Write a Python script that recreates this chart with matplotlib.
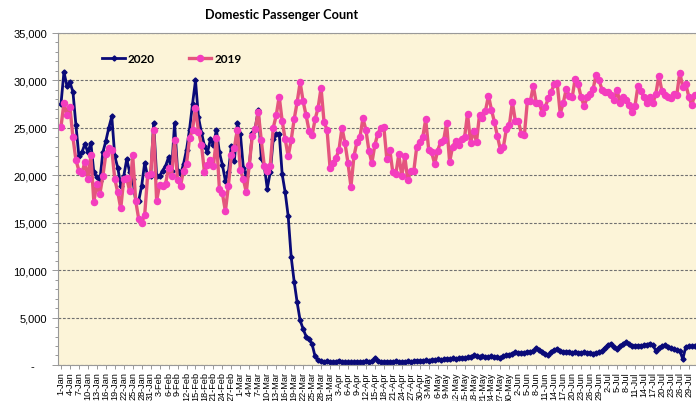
import pandas as pd
import matplotlib
matplotlib.use("Agg")
import matplotlib.pyplot as plt
import matplotlib.ticker as mticker

# daily domestic passengers, 1-Jan .. 31-Jul
pax_2020 = [27500, 30900, 29400, 29800, 28800, 25300, 22000, 22400, 23300, 22400,
            23400, 20300, 19800, 19400, 22400, 23600, 25000, 26200, 22000, 20800,
            18900, 19900, 21700, 20300, 19600, 17300, 17300, 18900, 21300, 19900,
            19900, 25500, 19900, 19900, 20500, 21000, 21900, 20500, 25500, 20500,
            20100, 21200, 22700, 24800, 27500, 30000, 26100, 24500, 23100, 22400,
            23800, 23200, 24800, 22400, 21100, 19400, 20300, 23100, 21500, 25500,
            24400, 20800, 19900, 21000, 24500, 25000, 26900, 21800, 21000, 18600,
            20300, 23800, 24300, 24400, 20100, 18200, 15700, 11400, 8800, 6600,
            4700, 3800, 3000, 2700, 2200, 900, 500, 400, 350, 400,
            350, 300, 350, 450, 350, 300, 280, 280, 300, 350,
            300, 350, 400, 350, 400, 700, 450, 350, 300, 350,
            300, 350, 400, 350, 300, 350, 400, 350, 400, 450,
            400, 450, 500, 450, 550, 500, 600, 550, 600, 650,
            600, 700, 650, 700, 750, 700, 800, 850, 1000, 900,
            850, 900, 800, 850, 900, 850, 800, 750, 900, 1000,
            1100, 1200, 1350, 1300, 1250, 1300, 1400, 1350, 1500, 1750,
            1600, 1400, 1200, 1000, 1400, 1600, 1700, 1500, 1400, 1350,
            1400, 1300, 1350, 1250, 1300, 1350, 1250, 1300, 1200, 1300,
            1350, 1500, 1800, 2100, 2250, 1900, 1700, 2000, 2200, 2400,
            2200, 2050, 2000, 2050, 2000, 2100, 2150, 2250, 2100, 1500,
            1800, 2000, 2100, 1900, 1800, 1700, 1600, 1500, 630, 1900,
            2000, 1950, 2000]

pax_2019 = [25100, 27600, 26400, 27200, 24000, 21600, 20500, 20200, 21400, 19600,
            22100, 17200, 19100, 18000, 19900, 22200, 22900, 22700, 19600, 18200,
            16500, 19600, 19700, 18300, 22100, 17300, 15400, 15000, 15800, 20000,
            20100, 24800, 17300, 19000, 18900, 19100, 20800, 19900, 23700, 19500,
            18900, 20500, 21200, 23900, 24800, 27100, 24600, 23200, 20300, 21100,
            21600, 21000, 23900, 18500, 18100, 16200, 18900, 22100, 22900, 24800,
            20600, 19600, 18200, 21100, 24100, 24900, 26700, 23700, 21000, 20400,
            21000, 25000, 26300, 28300, 25700, 23800, 22000, 23700, 25900, 27700,
            29800, 27800, 26300, 24700, 24200, 25900, 27100, 29200, 25600, 24800,
            20800, 21300, 21800, 22700, 25000, 23400, 21300, 18800, 22000, 23500,
            24000, 26000, 24800, 22600, 21300, 23200, 24400, 25000, 25100, 21700,
            22700, 20300, 20100, 22200, 19900, 22000, 19500, 20400, 20400, 23000,
            23500, 24000, 25900, 22700, 22400, 21200, 22600, 23500, 23700, 25500,
            21400, 23000, 23600, 23200, 23800, 24000, 26500, 23400, 24700, 23500,
            26400, 26000, 26800, 28400, 26900, 25600, 24100, 22700, 23000, 24900,
            25300, 27700, 25700, 25700, 24400, 24200, 27800, 27800, 29400, 27600,
            27600, 26600, 27200, 28100, 28800, 29600, 29700, 26500, 27600, 29100,
            28400, 28200, 30200, 29600, 28200, 27300, 28200, 28600, 29100, 30600,
            30000, 29000, 28800, 28800, 28500, 27900, 29000, 27600, 28300, 27900,
            27400, 26700, 27300, 29400, 28900, 28200, 27600, 28300, 27600, 28600,
            30500, 28900, 28500, 28300, 28100, 28600, 28500, 30800, 29300, 29600,
            28300, 27400, 28500]

dates = pd.date_range("2020-01-01", periods=len(pax_2020), freq="D")
tick_dates = dates[::3]
tick_labels = [f"{d.day}-{d.strftime('%b')}" for d in tick_dates]

plt.rcParams['font.family'] = ['Liberation Sans', 'DejaVu Sans']

fig = plt.figure(figsize=(6.96, 4.02), dpi=100)
ax = fig.add_axes([0.0833, 0.0896, 0.9167, 0.8259])
ax.set_facecolor('#FCF4D8')

ax.plot(dates, pax_2020, color='#0A0A78', lw=2, marker='D', ms=2.6,
        mfc='#0A0A78', mec='#0A0A78', label='2020')
ax.plot(dates, pax_2019, color='#E4557E', lw=2.4, marker='o', ms=4.4,
        mfc='#F43DBE', mec='#F43DBE', label='2019')

ax.set_ylim(0, 35000)
ax.set_xlim(dates[0] - pd.Timedelta(days=1), dates[-1] + pd.Timedelta(hours=10))
ax.yaxis.set_major_locator(mticker.MultipleLocator(5000))
ax.yaxis.set_minor_locator(mticker.MultipleLocator(1000))
ax.yaxis.set_major_formatter(mticker.FuncFormatter(
    lambda v, p: '-    ' if v == 0 else f"{int(v):,}"))
ax.grid(axis='y', color='#707070', lw=0.8, ls=(0, (2.5, 1.5)))
ax.set_axisbelow(True)

ax.set_xticks(tick_dates)
ax.set_xticklabels(tick_labels, rotation=90, fontsize=6.6)
ax.tick_params(axis='x', length=3, width=0.6, color='#888888', pad=1.5)
ax.tick_params(axis='y', which='major', labelsize=8, length=4, width=0.6,
               color='#888888', pad=4)
ax.tick_params(axis='y', which='minor', length=2.5, width=0.6, color='#888888')

for side in ['left', 'bottom', 'top']:
    ax.spines[side].set_color('#999999')
    ax.spines[side].set_linewidth(0.8)
ax.spines['right'].set_visible(False)

ax.legend(loc='center left', bbox_to_anchor=(0.053, 0.922), ncol=2, frameon=False,
          prop={'family': 'Lato', 'weight': 'bold', 'size': 8.5},
          handlelength=1.9, columnspacing=2.9, handletextpad=0.25)

fig.text(0.404, 0.962, 'Domestic Passenger Count', ha='center', va='center',
         family='Lato', weight='bold', fontsize=9.2)

fig.savefig('out.png', dpi=100)
